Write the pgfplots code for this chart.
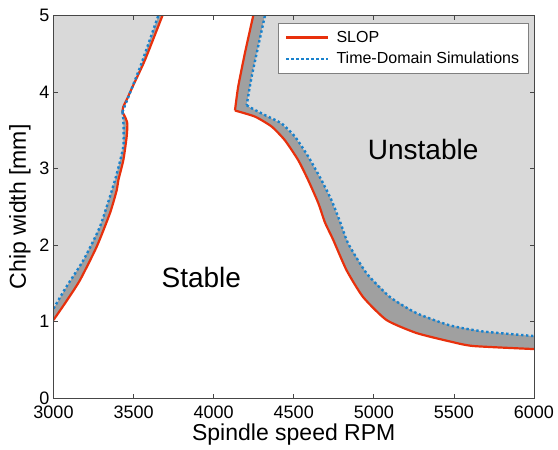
\documentclass[border=0pt]{standalone}
\usepackage{fontspec}
\setmainfont{Liberation Sans}
\usepackage{pgfplots}
\pgfplotsset{compat=1.18}
\definecolor{slopred}{RGB}{232,48,12}
\definecolor{tdsblue}{RGB}{25,130,205}
\definecolor{lgray}{RGB}{217,217,217}
\definecolor{dgray}{RGB}{160,160,160}
\definecolor{axgray}{RGB}{70,70,70}
\begin{document}
\begin{tikzpicture}
\begin{axis}[
  name=ax,
  scale only axis,
  width=480.5pt, height=382.3pt,
  xmin=3000, xmax=6000, ymin=0, ymax=5,
  xtick={3000,3500,4000,4500,5000,5500,6000},
  ytick={0,1,2,3,4,5},
  tick align=inside,
  major tick length=4pt,
  axis line style={axgray, line width=0.8pt},
  every tick/.style={axgray, line width=0.8pt},
  /pgf/number format/assume math mode=true,
  /pgf/number format/set thousands separator={},
  tick label style={font=\fontsize{18}{20}\selectfont, text=black},
  xticklabel style={inner sep=0pt, yshift=-8pt, text depth=0pt},
  yticklabel style={inner sep=0pt, xshift=-4pt, text depth=0pt},
  xlabel={Spindle speed RPM},
  ylabel={Chip width [mm]},
  label style={font=\fontsize{23}{26}\selectfont},
  xlabel style={at={(axis description cs:0.5,0)}, anchor=base, yshift=-43pt},
  ylabel style={at={(axis description cs:-0.0697,0.5)}, anchor=center},
  axis on top,
  legend style={at={(1,1)}, anchor=north east, xshift=-5.7pt, yshift=-7.3pt,
    draw=gray, fill=white, font=\fontsize{16}{19}\selectfont,
    inner xsep=7pt, inner ysep=6pt, row sep=4.5pt,
    /tikz/every odd column/.append style={column sep=5pt}},
  legend cell align=left,
  legend image code/.code={\draw[#1] (0pt,0pt) -- (42pt,0pt);},
]
% dark gray regions bounded by SLOP
\addplot[fill=dgray, draw=none, forget plot] coordinates {
(3000,1.02) (3082,1.27) (3165,1.54) (3270,1.98) (3353,2.42) (3395,2.72) (3405,2.85) (3436,3.11) (3457,3.42) (3461,3.59) (3446,3.68) (3430,3.74) (3436,3.81) (3457,3.90) (3498,4.09) (3571,4.42) (3680,5.0) (3000,5.0)} -- cycle;
\addplot[fill=dgray, draw=none, forget plot] coordinates {
(4247,5.0) (4195,4.51) (4153,4.07) (4133,3.76) (4258,3.68) (4362,3.55) (4445,3.37) (4528,3.11) (4590,2.85) (4653,2.55) (4694,2.30) (4746,2.07) (4830,1.67) (4933,1.32) (5079,1.02) (5266,0.85) (5474,0.74) (5620,0.68) (6000,0.64) (6000,5.0)} -- cycle;
% light gray regions bounded by simulations
\addplot[fill=lgray, draw=none, forget plot] coordinates {
(3000,1.17) (3082,1.46) (3186,1.80) (3290,2.24) (3384,2.85) (3436,3.29) (3436,3.64) (3430,3.74) (3468,3.94) (3550,4.38) (3654,5.0) (3000,5.0)} -- cycle;
\addplot[fill=lgray, draw=none, forget plot] coordinates {
(4320,5.0) (4278,4.6) (4237,4.2) (4206,3.83) (4237,3.79) (4320,3.70) (4424,3.59) (4507,3.42) (4590,3.16) (4673,2.85) (4735,2.59) (4790,2.30) (4840,2.02) (4955,1.63) (5101,1.32) (5266,1.11) (5474,0.95) (5682,0.87) (6000,0.81) (6000,5.0)} -- cycle;
% SLOP lines
\addplot[slopred, line width=2.2pt, smooth, tension=0.35] coordinates {
(3000,1.02) (3082,1.27) (3165,1.54) (3270,1.98) (3353,2.42) (3395,2.72) (3405,2.85) (3436,3.11) (3457,3.42) (3461,3.59) (3446,3.68) (3430,3.74)};
\addlegendentry{SLOP}
\addplot[tdsblue, line width=2.4pt, dash pattern=on 2.4pt off 2.6pt, smooth, tension=0.35] coordinates {
(3000,1.17) (3082,1.46) (3186,1.80) (3290,2.24) (3384,2.85) (3436,3.29) (3436,3.64) (3430,3.74)};
\addlegendentry{Time-Domain Simulations}
\addplot[slopred, line width=2.2pt, smooth, tension=0.35, forget plot] coordinates {
(3430,3.74) (3436,3.81) (3457,3.90) (3498,4.09) (3571,4.42) (3680,5.0)};
\addplot[tdsblue, line width=2.4pt, dash pattern=on 2.4pt off 2.6pt, smooth, tension=0.35, forget plot] coordinates {
(3430,3.74) (3468,3.94) (3550,4.38) (3654,5.0)};
\addplot[slopred, line width=2.2pt, smooth, tension=0.35, forget plot] coordinates {
(4247,5.0) (4195,4.51) (4153,4.07) (4133,3.76)};
\addplot[slopred, line width=2.2pt, smooth, tension=0.35, forget plot] coordinates {
(4133,3.76) (4258,3.68) (4362,3.55) (4445,3.37) (4528,3.11) (4590,2.85) (4653,2.55) (4694,2.30) (4746,2.07) (4830,1.67) (4933,1.32) (5079,1.02) (5266,0.85) (5474,0.74) (5620,0.68) (6000,0.64)};
\addplot[tdsblue, line width=2.4pt, dash pattern=on 2.4pt off 2.6pt, smooth, tension=0.35, forget plot] coordinates {
(4320,5.0) (4278,4.6) (4237,4.2) (4206,3.83)};
\addplot[tdsblue, line width=2.4pt, dash pattern=on 2.4pt off 2.6pt, smooth, tension=0.35, forget plot] coordinates {
(4206,3.83) (4237,3.79) (4320,3.70) (4424,3.59) (4507,3.42) (4590,3.16) (4673,2.85) (4735,2.59) (4790,2.30) (4840,2.02) (4955,1.63) (5101,1.32) (5266,1.11) (5474,0.95) (5682,0.87) (6000,0.81)};
\node[anchor=base, font=\fontsize{28}{32}\selectfont] at (axis cs:3923,1.448) {Stable};
\node[anchor=base, font=\fontsize{28}{32}\selectfont] at (axis cs:5308,3.122) {Unstable};
\end{axis}
\path (ax.south west) ++(-53.5pt,-50pt) rectangle ++(558pt,448pt);
\end{tikzpicture}
\end{document}
